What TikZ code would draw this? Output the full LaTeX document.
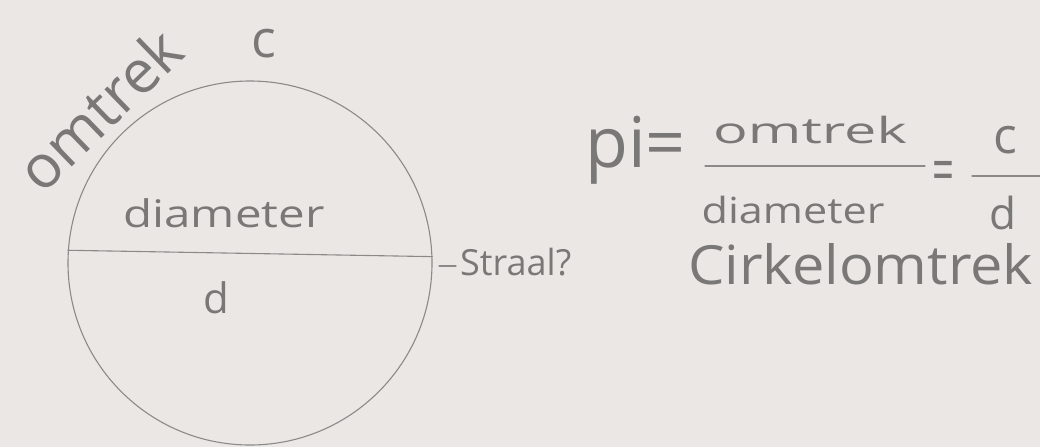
\documentclass[tikz,border=0pt]{standalone}
\usepackage{fontspec}
\setmainfont{Open Sans}
\definecolor{paper}{HTML}{EAE7E4}
\definecolor{pencil}{HTML}{8C8A88}
\definecolor{ink}{HTML}{7A7876}
\tikzset{
  hand/.style={text=ink, inner sep=0pt, font=\fontsize{#1}{#1}\selectfont},
  hand/.default=36,
  stroke/.style={draw=pencil, line width=1.1pt, line cap=round}
}
\begin{document}
\begin{tikzpicture}[x=1pt,y=-1pt]
\fill[paper] (0,0) rectangle (1040,447);
\useasboundingbox (0,0) rectangle (1040,447);
% circle
\node[stroke, circle, minimum size=364pt, inner sep=0pt] (circ) at (250,263) {};
\draw[stroke] (circ.176) -- (circ.2);
\node[hand=38, xscale=1.25] (diam) at (224,213) {diameter};
\node[hand=42] (dd) at (216,298) {d};
\node[hand=60, rotate=44] (omtrek) at (99,109) {omtrek};
\node[hand=52] (cc) at (264,44) {c};
% straal
\coordinate (s1) at (439,266);
\coordinate (s2) at (456,266);
\draw[stroke] (s1) -- (s2);
\node[hand=36, anchor=west] (straal) at (460,262) {Straal?};
% formula
\node[hand=70, anchor=west] (pi) at (585,150) {pi};
\node[hand=70, anchor=west] (eq1) at (645,150) {=};
\node[hand=36, xscale=1.6] (num) at (810,130) {omtrek};
\coordinate (f1) at (705,166);
\coordinate (f2) at (925,166);
\draw[stroke] (f1) -- (f2);
\node[hand=36, xscale=1.2] (den) at (793,210) {diameter};
\node[hand=64, xscale=0.6] (eq2) at (943,177) {=};
\node[hand=50] (cnum) at (1005,140) {c};
\coordinate (g1) at (972,176);
\coordinate (g2) at (1040,176);
\draw[stroke] (g1) -- (g2);
\node[hand=44] (dden) at (1003,213) {d};
\node[hand=54, anchor=west, xscale=1.07] (cirk) at (688,264) {Cirkelomtrek};
\end{tikzpicture}
\end{document}
